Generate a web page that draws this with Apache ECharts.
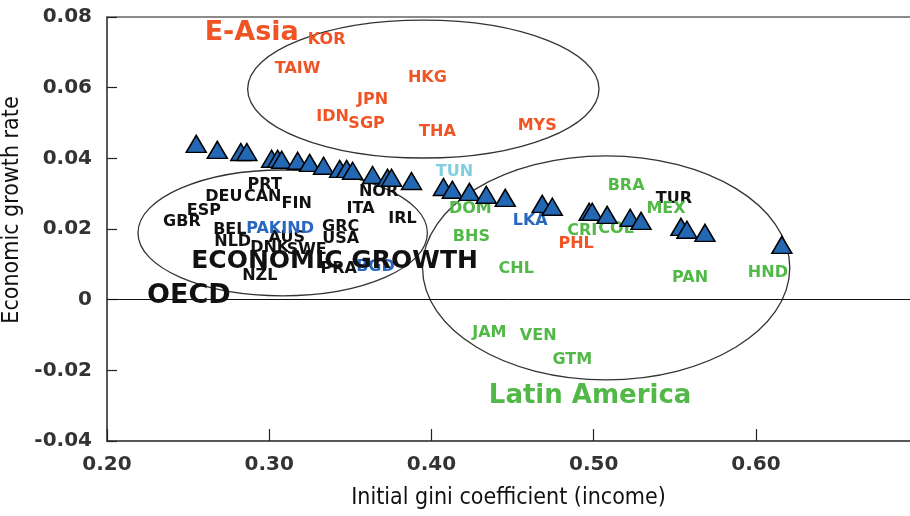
<!DOCTYPE html>
<html>
<head>
<meta charset="utf-8">
<style>
html,body{margin:0;padding:0;background:#fff;}
#chart{width:910px;height:516px;}
</style>
<script src="https://cdn.jsdelivr.net/npm/echarts@6/dist/echarts.min.js"></script>
</head>
<body>
<div id="chart"></div>
<script>
// Triangle markers: [initial gini, growth rate]
const triangles = [
  [0.255,0.0441],[0.268,0.0424],[0.2825,0.0418],[0.2862,0.0418],[0.3015,0.0399],
  [0.3052,0.0399],[0.3077,0.0396],[0.3175,0.0393],[0.3249,0.0387],[0.3335,0.0379],
  [0.3434,0.0370],[0.3477,0.0370],[0.3514,0.0365],[0.3637,0.0353],[0.3729,0.0345],
  [0.3754,0.0345],[0.3877,0.0336],[0.4074,0.0319],[0.4129,0.0311],[0.4234,0.0305],
  [0.4338,0.0297],[0.4455,0.0288],[0.4683,0.0271],[0.4745,0.0263],[0.4972,0.0249],
  [0.4991,0.0249],[0.5083,0.0240],[0.5225,0.0232],[0.5292,0.0223],[0.5538,0.0206],
  [0.5575,0.0198],[0.5686,0.0189],[0.6160,0.0155]
];
// Country labels [gini, growth, code]
const eastAsiaLabels = [
  [0.3354,0.0735,'KOR'],[0.3175,0.0653,'TAIW'],[0.3975,0.0628,'HKG'],[0.3637,0.0565,'JPN'],
  [0.3391,0.0517,'IDN'],[0.3600,0.0498,'SGP'],[0.4037,0.0475,'THA'],[0.4652,0.0492,'MYS'],
  [0.4892,0.0158,'PHL']
];
const blackLabels = [
  [0.2972,0.0325,'PRT'],[0.2720,0.0291,'DEU'],[0.2960,0.0291,'CAN'],[0.3169,0.0271,'FIN'],
  [0.2597,0.0252,'ESP'],[0.2462,0.0220,'GBR'],[0.2757,0.0198,'BEL'],[0.3440,0.0206,'GRC'],
  [0.3440,0.0172,'USA'],[0.3108,0.0175,'AUS'],[0.2775,0.0164,'NLD'],[0.3003,0.0147,'DNK'],
  [0.3231,0.0141,'SWE'],[0.3563,0.0257,'ITA'],[0.3674,0.0305,'NOR'],[0.3822,0.0229,'IRL'],
  [0.3428,0.0088,'PRA'],[0.2942,0.0068,'NZL'],[0.5495,0.0286,'TUR']
];
const blueLabels = [
  [0.2966,0.0201,'PAK'],[0.3175,0.0201,'IND'],[0.3655,0.0093,'BGD'],[0.4609,0.0223,'LKA']
];
const cyanLabels = [[0.4142,0.0362,'TUN']];
const greenLabels = [
  [0.5200,0.0322,'BRA'],[0.5446,0.0257,'MEX'],[0.4240,0.0257,'DOM'],[0.4929,0.0195,'CRI'],
  [0.5138,0.0201,'COL'],[0.4246,0.0178,'BHS'],[0.4523,0.0088,'CHL'],[0.5594,0.0062,'PAN'],
  [0.6074,0.0076,'HND'],[0.4357,-0.0093,'JAM'],[0.4658,-0.0102,'VEN'],[0.4868,-0.0170,'GTM']
];
// Group titles [gini, growth, text]
const groupTitles = [
  [0.2892,0.0755,'E-Asia','#f05424',27],
  [0.4978,-0.0274,'Latin America','#52b848',26],
  [0.3403,0.0107,'ECONOMIC GROWTH','#111111',25],
  [0.2505,0.0011,'OECD','#111111',27]
];
// Ellipses [center gini, center growth, radius gini, radius growth]
const ellipses = [
  [0.395,0.0596,0.1083,0.0195],
  [0.3083,0.0189,0.0892,0.0178],
  [0.5077,0.0090,0.1132,0.0317]
];
const xTicks = {min:0.2, max:0.695, interval:0.1};
const yTicks = {min:-0.04, max:0.08, interval:0.02};

const FONT = 'DejaVu Sans';
const NAMEFONT = 'Liberation Sans Narrow, DejaVu Sans Condensed';
function textLabel(color, size){
  return {show:true, position:'inside', formatter:'{b}', color:color, opacity:1,
    textBorderWidth:0, textBorderColor:'transparent',
    fontFamily:FONT, fontWeight:'bold', fontSize:size};
}
function labelSeries(arr, color, size){
  return {
    type:'scatter', silent:true, z:3,
    symbolSize:1, itemStyle:{color:'rgba(255,255,255,0)', opacity:1},
    data: arr.map(d=>({name:d[2], value:[d[0],d[1]]})),
    label:textLabel(color, size)
  };
}
const chart = echarts.init(document.getElementById('chart'));
const titleSeries = groupTitles.map(t=>({
  type:'scatter', silent:true, z:3, symbolSize:1, itemStyle:{color:'rgba(255,255,255,0)', opacity:1},
  data:[{name:t[2], value:[t[0],t[1]]}],
  label:textLabel(t[3], t[4])
}));
chart.setOption({
  animation:false,
  backgroundColor:'#fff',
  grid:{left:107, right:0, top:17, bottom:75, containLabel:false, outerBoundsMode:'none'},
  xAxis:[{
    type:'value', min:xTicks.min, max:xTicks.max, interval:xTicks.interval,
    name:'Initial gini coefficient (income)', nameLocation:'middle', nameGap:46,
    nameTextStyle:{fontFamily:NAMEFONT, fontSize:23, color:'#111'},
    axisLine:{show:true, onZero:false, lineStyle:{color:'#222', width:1.5}},
    axisTick:{show:true, inside:true, length:12, lineStyle:{color:'#222', width:1.2}},
    axisLabel:{fontFamily:FONT, fontWeight:'bold', fontSize:20, color:'#333', margin:14,
      showMaxLabel:false, formatter:v=>v.toFixed(2)},
    splitLine:{show:false}
  },{
    type:'value', position:'top', min:xTicks.min, max:xTicks.max,
    axisLine:{show:true, onZero:false, lineStyle:{color:'#666', width:1.5}},
    axisTick:{show:false}, axisLabel:{show:false}, splitLine:{show:false}
  }],
  yAxis:{
    type:'value', min:yTicks.min, max:yTicks.max, interval:yTicks.interval,
    name:'Economic growth rate', nameLocation:'middle', nameGap:74,
    nameTextStyle:{fontFamily:NAMEFONT, fontSize:23, color:'#111', padding:[0,0,0,38]},
    axisLine:{show:true, onZero:false, lineStyle:{color:'#222', width:1.5}},
    axisTick:{show:true, inside:true, length:10, lineStyle:{color:'#222', width:1.2}},
    axisLabel:{fontFamily:FONT, fontWeight:'bold', fontSize:20, color:'#333', margin:15,
      formatter:v=>Math.abs(v)<1e-9?'0':v.toFixed(2)},
    splitLine:{show:false}
  },
  series:[
    {
      type:'custom', silent:true, z:1, clip:false,
      data:ellipses,
      renderItem:function(params, api){
        const c = api.coord([api.value(0), api.value(1)]);
        const s = api.size([api.value(2), api.value(3)]);
        return {type:'ellipse', shape:{cx:c[0], cy:c[1], rx:s[0], ry:s[1]},
          style:{fill:'none', stroke:'#333', lineWidth:1.3}};
      },
      markLine:{silent:true, symbol:'none', label:{show:false},
        lineStyle:{color:'#111', width:1, type:'solid'}, data:[{yAxis:0}]}
    },
    labelSeries(eastAsiaLabels,'#f05424',16),
    labelSeries(blackLabels,'#111111',16),
    labelSeries(blueLabels,'#2a68c0',16),
    labelSeries(cyanLabels,'#80cfe0',16),
    labelSeries(greenLabels,'#52b848',16),
    ...titleSeries,
    {
      type:'scatter', silent:true, z:5,
      symbol:'triangle', symbolSize:[20,17],
      itemStyle:{color:'#2467b3', borderColor:'#000', borderWidth:1.5, opacity:1},
      data:triangles
    }
  ]
});
</script>
</body>
</html>
